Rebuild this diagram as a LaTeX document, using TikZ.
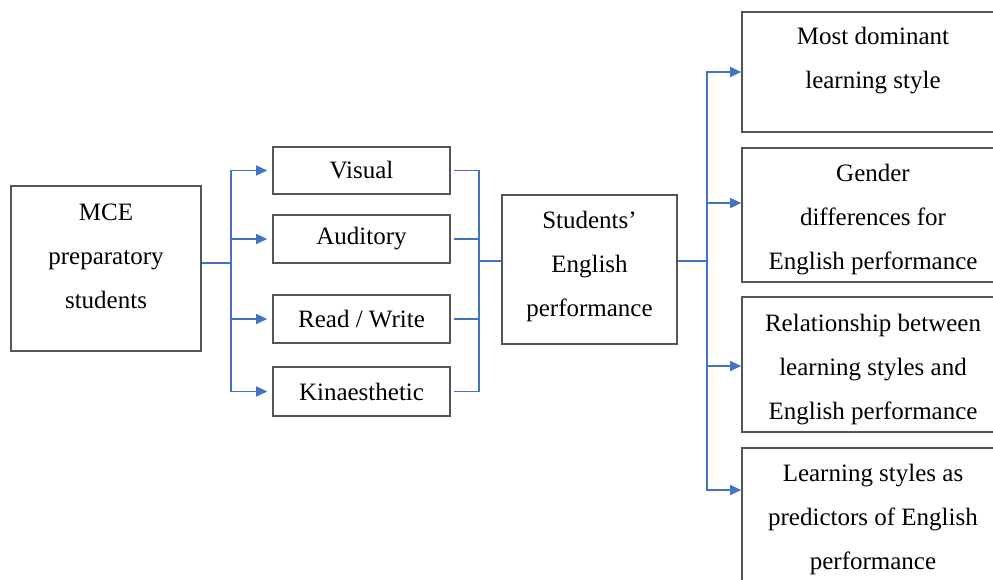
\documentclass[tikz,border=0pt]{standalone}
\usepackage{fontspec}
\setmainfont{Liberation Serif}
\usetikzlibrary{arrows.meta}

\definecolor{linkblue}{HTML}{4472C4}
\definecolor{boxgray}{HTML}{555555}

\tikzset{
  box/.style={draw=boxgray, line width=1.6pt, fill=white, align=center,
    inner sep=0pt, font=\fontsize{25}{44}\selectfont},
  link/.style={draw=linkblue, line width=1.5pt},
  arr/.style={link, -{Triangle[length=11pt,width=10pt]}}
}

\begin{document}
\begin{tikzpicture}[x=1pt, y=-1pt]

\clip (0,0) rectangle (993,580);
\useasboundingbox (0,0) rectangle (993,580);

% --- Source and learning styles ---
\node[box, minimum width=190pt, minimum height=165pt] (mce) at (106,268.5)
  {MCE\\preparatory\\students\\[-20pt]\mbox{}};
\node[box, minimum width=177pt, minimum height=47pt] (vis) at (361.5,170.5) {Visual};
\node[box, minimum width=177pt, minimum height=48pt] (aud) at (361.5,239) {Auditory};
\node[box, minimum width=177pt, minimum height=48pt] (rw)  at (361.5,319) {Read / Write};
\node[box, minimum width=177pt, minimum height=49pt] (kin) at (361.5,391.5) {Kinaesthetic};

% --- Performance ---
\node[box, minimum width=175pt, minimum height=149pt] (perf) at (589.5,269.5)
  {Students'\\English\\performance\\[-32pt]\mbox{}};

% --- Research questions (cut at the right edge) ---
\node[box, minimum width=262pt, minimum height=120pt] (dom)  at (873,72)
  {Most dominant\\learning style\\[-15pt]\mbox{}};
\node[box, minimum width=262pt, minimum height=134pt] (gen)  at (873,215)
  {Gender\\differences for\\English performance\\[-48pt]\mbox{}};
\node[box, minimum width=262pt, minimum height=135pt] (rel)  at (873,364.5)
  {Relationship between\\learning styles and\\English performance\\[-48pt]\mbox{}};
\node[box, minimum width=262pt, minimum height=137pt] (pred) at (873,516.5)
  {Learning styles as\\predictors of English\\performance\\[-45.5pt]\mbox{}};

% --- Forks ---
\coordinate (fork1) at (231,263);
\coordinate (fork2) at (479,261);
\coordinate (fork3) at (707,261);

\draw[link] ([yshift=5.5pt]mce.east) -- (fork1);
\foreach \n in {vis,aud,rw,kin}
  \draw[arr, shorten >=5pt] (fork1) |- (\n.west);

\foreach \n in {vis,aud,rw,kin}
  \draw[link, shorten <=3pt] (\n.east) -| (fork2);
\draw[link] (fork2) -- (perf.west |- fork2);

\draw[link] (perf.east |- fork3) -- (fork3);
\draw[arr] (fork3) |- (dom.west);
\draw[arr] (fork3) |- ([yshift=12pt]gen.west);
\draw[arr] (fork3) |- ([yshift=-1.5pt]rel.west);
\draw[arr] (fork3) |- ([yshift=26.5pt]pred.west);

\end{tikzpicture}
\end{document}
